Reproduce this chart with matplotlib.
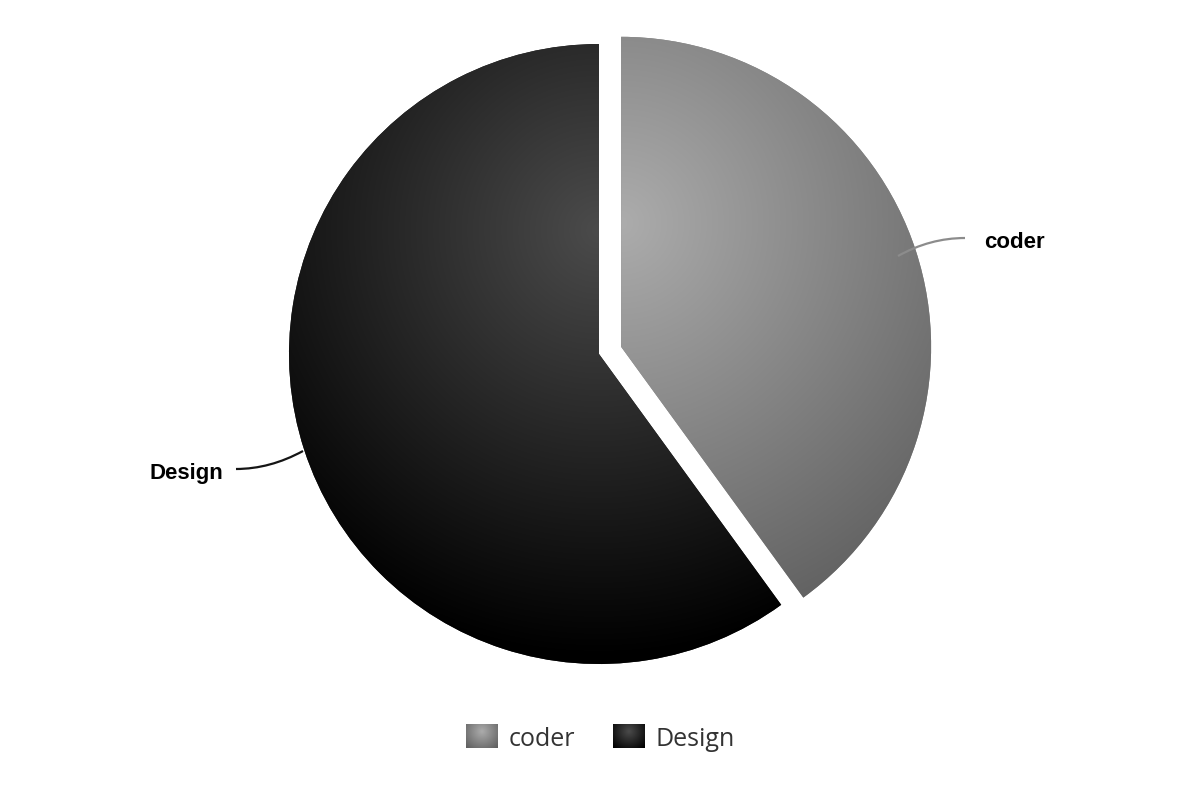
import numpy as np
import matplotlib.pyplot as plt
from matplotlib.path import Path
from matplotlib.patches import PathPatch

# data
labels = ['coder', 'Design']
values = [40, 60]
base_grays = [0.675, 0.295]          # radial gradient start (0..1 gray)
line_colors = ['#8c8c8c', '#151515']

W, H = 1200, 800
cx_px, cy_px, r_px = 599, 354, 310   # pie centre / radius in pixels


def px(x, y):
    # pixel (y down) -> data units (pie radius = 1)
    return (x - cx_px) / r_px, (cy_px - y) / r_px


fig = plt.figure(figsize=(12, 8), dpi=100)
ax = fig.add_axes([0, 0, 1, 1])

wedges, _ = ax.pie(values, explode=[0.075, 0], startangle=90, counterclock=False,
                   radius=1, center=(0, 0), wedgeprops=dict(linewidth=0))

x0, y1 = px(0, 0)
x1, y0 = px(W, H)
ax.set_xlim(x0, x1)
ax.set_ylim(y0, y1)
ax.set_aspect('auto')
ax.axis('off')

# radial gradient fill for each slice (centre at 0.5, 0.3 of pie box, r = 0.7 * box)
gx = np.linspace(x0, x1, 1200)
gy = np.linspace(y0, y1, 800)
XX, YY = np.meshgrid(gx, gy)
for w, g in zip(wedges, base_grays):
    c = w.center
    gcx, gcy = c[0], c[1] + 0.4
    t = np.clip(np.hypot(XX - gcx, YY - gcy) / 1.4, 0, 1)
    v = np.clip(g - 0.3 * t, 0, 1)
    img = np.dstack([v, v, v])
    w.set_facecolor((g - 0.15, g - 0.15, g - 0.15))
    im = ax.imshow(img, extent=(x0, x1, y0, y1), origin='lower',
                   interpolation='bilinear', zorder=2, aspect='auto')
    im.set_clip_path(w)

# data labels with curved connectors
label_pts = [
    ((898, 256), (930, 238), (965, 238), (984, 243), 'left'),
    ((303, 451), (270, 469), (236, 469), (223, 473), 'right'),
]
for (s, ctrl, e, tp, ha), name, lc in zip(label_pts, labels, line_colors):
    verts = [px(*s), px(*ctrl), px(*e)]
    path = Path(verts, [Path.MOVETO, Path.CURVE3, Path.CURVE3])
    ax.add_patch(PathPatch(path, fill=False, edgecolor=lc, lw=1.6, zorder=3))
    tx, ty = px(*tp)
    ax.text(tx, ty, name, ha=ha, va='center', fontsize=16, fontweight='bold',
            family='Liberation Sans', color='#000000', zorder=4)

# legend
leg_items = [(466, 509), (613, 655)]
for (sx, tx_px), name, g in zip(leg_items, labels, base_grays):
    bw, bh = 32, 24
    lx = np.linspace(0, 1, 64)
    ly = np.linspace(0, 1, 48)
    LX, LY = np.meshgrid(lx, ly)
    t = np.clip(np.hypot((LX - 0.5) * bw, (LY - 0.3) * bh) / (0.7 * bw), 0, 1)
    v = np.clip(g - 0.3 * t, 0, 1)
    ex0, ey1 = px(sx, 724)
    ex1, ey0 = px(sx + bw, 724 + bh)
    ax.imshow(np.dstack([v, v, v]), extent=(ex0, ex1, ey0, ey1), origin='upper',
              interpolation='bilinear', zorder=2, aspect='auto')
    tx, ty = px(tx_px, 739)
    ax.text(tx, ty, name, ha='left', va='center', fontsize=18,
            family='Open Sans', color='#333333')

fig.savefig('out.png', dpi=100)
